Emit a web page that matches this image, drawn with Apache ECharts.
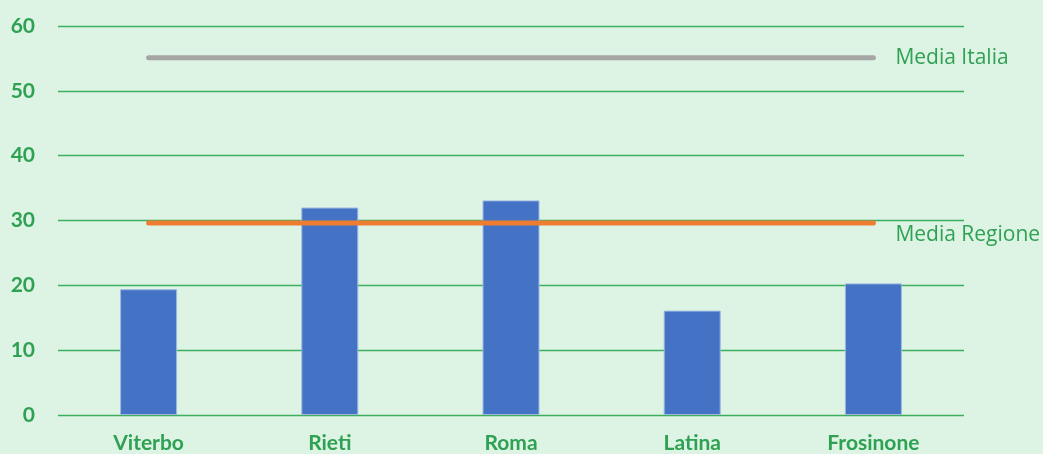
<!DOCTYPE html>
<html>
<head>
<meta charset="utf-8">
<script src="https://cdn.jsdelivr.net/npm/echarts@6/dist/echarts.min.js"></script>
<style>
html,body{margin:0;padding:0;background:#DDF3E4;}
#c{width:1043px;height:454px;}
</style>
</head>
<body>
<div id="c"></div>
<script>
const categories = ['Viterbo', 'Rieti', 'Roma', 'Latina', 'Frosinone'];
const values = [19.4, 32.0, 33.1, 16.1, 20.3];
const mediaItalia = [55.1, 55.1, 55.1, 55.1, 55.1];
const mediaRegione = [29.6, 29.6, 29.6, 29.6, 29.6];
const yTicks = [0, 10, 20, 30, 40, 50, 60];

const green = '#2FA152';
const chart = echarts.init(document.getElementById('c'));
chart.setOption({
  backgroundColor: '#DDF3E4',
  animation: false,
  textStyle: { fontFamily: 'Lato, "Open Sans", sans-serif' },
  grid: { left: 58, right: 79, top: 26, bottom: 39 },
  xAxis: {
    type: 'category',
    data: categories,
    axisLine: { show: false },
    axisTick: { show: false },
    axisLabel: { color: green, fontWeight: 'bold', fontSize: 21, margin: 18, fontFamily: 'Lato, sans-serif' }
  },
  yAxis: {
    type: 'value',
    min: yTicks[0],
    max: yTicks[yTicks.length - 1],
    interval: 10,
    axisLabel: { color: green, fontWeight: 'bold', fontSize: 21, margin: 23, fontFamily: 'Lato, sans-serif' },
    splitLine: { lineStyle: { color: '#3DAE5E', width: 1.3 } }
  },
  series: [
    {
      name: 'Valore',
      type: 'bar',
      data: values,
      barWidth: 57,
      itemStyle: { color: '#4472C4', borderColor: '#9DB9E0', borderWidth: 1 },
      z: 2
    },
    {
      name: 'Media Italia',
      type: 'line',
      data: mediaItalia,
      symbol: 'none',
      lineStyle: { color: '#A5A5A5', width: 5, cap: 'round' },
      endLabel: { show: true, formatter: '{a}', color: green, fontSize: 21, distance: 22, fontFamily: '"Open Sans", Lato, sans-serif' },
      z: 3
    },
    {
      name: 'Media Regione',
      type: 'line',
      data: mediaRegione,
      symbol: 'none',
      lineStyle: { color: '#ED7D31', width: 5, cap: 'round' },
      endLabel: { show: true, formatter: '{a}', color: green, fontSize: 21, distance: 22, offset: [0, 12], fontFamily: '"Open Sans", Lato, sans-serif' },
      z: 3
    }
  ]
});
</script>
</body>
</html>
